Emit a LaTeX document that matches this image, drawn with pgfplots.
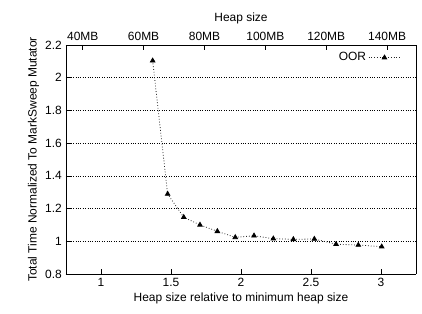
\documentclass[border=0pt]{standalone}
\usepackage{pgfplots}
\pgfplotsset{compat=1.18}
\usepackage{fontspec}
\setmainfont{Liberation Sans}
\begin{document}
\fontsize{12pt}{14pt}\selectfont
\begin{tikzpicture}
\begin{axis}[
  at={(0,0)}, anchor=south west,
  scale only axis, width=350bp, height=229bp,
  xmin=0.75, xmax=3.25, ymin=0.8, ymax=2.2,
  xtick={1,1.5,2,2.5,3},
  ytick={0.8,1,1.2,1.4,1.6,1.8,2,2.2},
  yticklabels={0.8,1,1.2,1.4,1.6,1.8,2,2.2},
  xticklabels={1,1.5,2,2.5,3},
  axis x line*=bottom,
  axis y line*=left,
  x axis line style={-},
  y axis line style={-},
  tick align=inside,
  major tick length=5bp,
  tick style={black, line width=0.6pt},
  axis line style={black, line width=0.8pt},
  ymajorgrids,
  grid style={black, dotted, line width=0.5pt},
  /pgf/number format/assume math mode=true,
  ticklabel style={font=\fontsize{12pt}{14pt}\selectfont},
  label style={font=\fontsize{12pt}{14pt}\selectfont},
  xlabel={Heap size relative to minimum heap size},
  ylabel={Total Time Normalized To MarkSweep Mutator},
  xlabel style={yshift=2bp},
  ylabel style={yshift=-2bp},
  legend style={draw=none, fill=none, at={(0.966,0.985)}, anchor=north east,
    font=\fontsize{12pt}{14pt}\selectfont, legend cell align=right},
  legend plot pos=right,
  legend image code/.code={
    \draw[#1, mark=none] (0bp,0bp) -- (32bp,0bp);
    \draw[#1, only marks] plot coordinates {(16bp,0bp)};
  },
]
\addplot[black!85, dotted, line width=0.8pt, mark=triangle*, mark size=2.6bp,
  mark options={solid, fill=black, draw=black}] coordinates {
  (1.369,2.104) (1.476,1.289) (1.591,1.147) (1.707,1.100) (1.831,1.061)
  (1.959,1.024) (2.093,1.034) (2.231,1.016) (2.374,1.012) (2.524,1.014)
  (2.679,0.982) (2.838,0.977) (3.005,0.967)
};
\addlegendentry{OOR}
\end{axis}
\begin{axis}[
  at={(0,0)}, anchor=south west,
  scale only axis, width=350bp, height=229bp,
  xmin=34.5, xmax=149.5, ymin=0.8, ymax=2.2,
  axis x line*=top,
  axis y line=none,
  x axis line style={-},
  xtick={40,60,80,100,120,140},
  xticklabels={40MB,60MB,80MB,100MB,120MB,140MB},
  tick align=inside,
  major tick length=5bp,
  tick style={black, line width=0.6pt},
  axis line style={black, line width=0.8pt},
  ticklabel style={font=\fontsize{12pt}{14pt}\selectfont},
  label style={font=\fontsize{12pt}{14pt}\selectfont},
  xlabel={Heap size},
]
\end{axis}
\draw[black, line width=0.8pt] (350bp,0) -- (350bp,229bp);
\pgfresetboundingbox
\path[use as bounding box] (-66bp,-40bp) rectangle (356bp,274bp);
\end{tikzpicture}
\end{document}
